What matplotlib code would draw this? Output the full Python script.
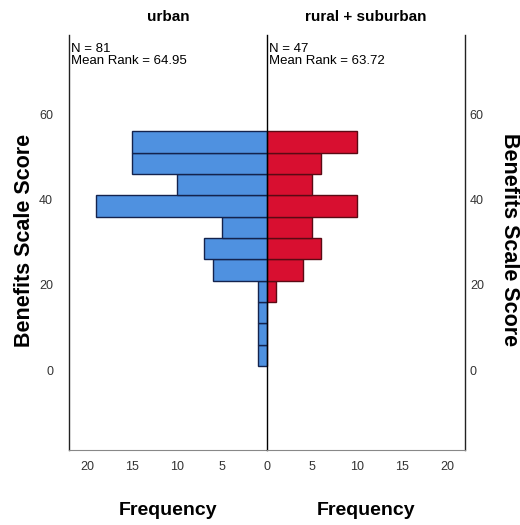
import numpy as np
import matplotlib.pyplot as plt

plt.rcParams['font.family'] = ['Liberation Sans', 'DejaVu Sans']

# histogram bins of Benefits Scale Score (width 5), lowest first
bin_edges = [1, 6, 11, 16, 21, 26, 31, 36, 41, 46, 51, 56]
urban_counts = [1, 1, 1, 1, 6, 7, 5, 19, 10, 15, 15]
rural_counts = [0, 0, 0, 1, 4, 6, 5, 10, 5, 6, 10]

groups = ['urban', 'rural + suburban']
n_labels = ['N = 81\nMean Rank = 64.95', 'N = 47\nMean Rank = 63.72']
y_ticks = [0, 20, 40, 60]
x_ticks_left = [0, 5, 10, 15, 20]
x_ticks_right = [5, 10, 15, 20]

fig = plt.figure(figsize=(5.2, 5.25), dpi=100)
ax_l = fig.add_axes([69 / 520, 75 / 525, 198 / 520, 415 / 525])
ax_r = fig.add_axes([267 / 520, 75 / 525, 198 / 520, 415 / 525], sharey=ax_l)

lows = np.array(bin_edges[:-1])
widths = np.diff(bin_edges)

ax_l.barh(lows, urban_counts, height=widths, align='edge',
          color='#4f91e0', edgecolor='#14234d', linewidth=1.0)
ax_r.barh(lows, rural_counts, height=widths, align='edge',
          color='#d80f30', edgecolor='#5a0a14', linewidth=1.0)

for ax, xt in ((ax_l, x_ticks_left), (ax_r, x_ticks_right)):
    ax.set_xlim(0, 22)
    ax.set_ylim(-18.7, 78.6)
    ax.set_xticks(xt)
    ax.set_yticks(y_ticks)
    ax.tick_params(length=0, labelsize=9, labelcolor='#333333')
    ax.tick_params(axis='x', pad=8)
    ax.spines['top'].set_visible(False)
    ax.spines['bottom'].set_color('#888888')
    for s in ('left', 'right'):
        ax.spines[s].set_color('#222222')
        ax.spines[s].set_linewidth(1.0)
    ax.set_xlabel('Frequency', fontsize=14, fontweight='bold', labelpad=21)

ax_l.invert_xaxis()
ax_l.spines['right'].set_visible(False)
ax_l.tick_params(axis='y', pad=11.5)
ax_r.spines['left'].set_color('black')
ax_r.yaxis.tick_right()
ax_r.tick_params(axis='y', labelleft=False, labelright=True, pad=3.5)

# axis titles on both sides
fig.text(25 / 520, 1 - 240 / 525, 'Benefits Scale Score', rotation=90,
         ha='center', va='center', fontsize=15.5, fontweight='bold')
fig.text(509 / 520, 1 - 240 / 525, 'Benefits Scale Score', rotation=-90,
         ha='center', va='center', fontsize=15.5, fontweight='bold')

for ax, g, t in zip((ax_l, ax_r), groups, n_labels):
    ax.set_title(g, fontsize=11, fontweight='bold', pad=10)
    ax.text(0.01, 0.98, t, transform=ax.transAxes, ha='left', va='top',
            fontsize=9.5, linespacing=1.0)

fig.savefig('out.png', dpi=100)
